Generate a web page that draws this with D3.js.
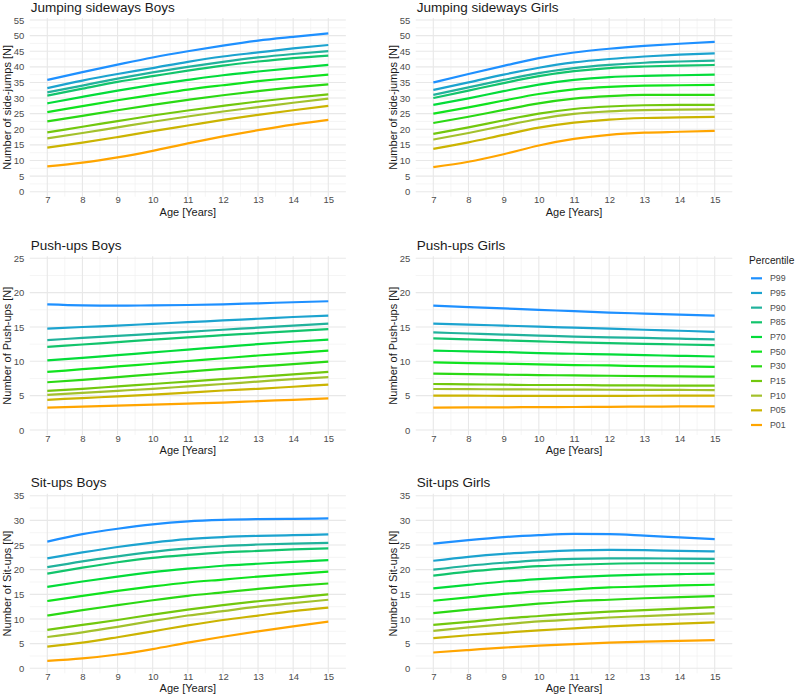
<!DOCTYPE html>
<html>
<head>
<meta charset="utf-8">
<script src="https://cdn.jsdelivr.net/npm/d3@7"></script>
<style>
    body { margin: 0; background: #fff; }
    text { font-family: "Liberation Sans", Arial, sans-serif; }
</style>
</head>
<body>
<div id="chart"></div>
<script>

// ages on the x axis
const ages = [7, 8, 9, 10, 11, 12, 13, 14, 15];

const percentiles = ["P99", "P95", "P90", "P85", "P70", "P50", "P30", "P15", "P10", "P05", "P01"];

// one row per percentile (P99 first), one value per age
const jumpBoys = [
    [35.8, 38.3, 40.7, 43.0, 45.0, 46.8, 48.4, 49.6, 50.7],
    [33.2, 35.6, 37.7, 39.6, 41.6, 43.3, 44.6, 45.9, 47.0],
    [31.8, 34.0, 36.2, 38.2, 40.0, 41.6, 43.0, 44.1, 45.0],
    [30.8, 33.0, 35.2, 37.0, 38.8, 40.4, 41.7, 42.8, 43.6],
    [28.3, 30.4, 32.4, 34.2, 35.8, 37.3, 38.5, 39.6, 40.6],
    [25.5, 27.4, 29.3, 31.0, 32.7, 34.1, 35.4, 36.5, 37.5],
    [22.5, 24.3, 26.1, 27.8, 29.4, 30.9, 32.2, 33.4, 34.4],
    [19.0, 20.8, 22.6, 24.4, 26.0, 27.5, 28.9, 30.1, 31.2],
    [17.1, 18.8, 20.6, 22.4, 24.1, 25.7, 27.1, 28.5, 29.8],
    [14.1, 15.7, 17.5, 19.4, 21.2, 23.0, 24.6, 26.1, 27.5],
    [8.1, 9.3, 11.0, 13.1, 15.5, 17.7, 19.7, 21.5, 23.0]
];

const jumpGirls = [
    [35.0, 37.7, 40.3, 42.8, 44.6, 45.8, 46.7, 47.4, 48.0],
    [32.6, 35.0, 37.5, 39.7, 41.4, 42.5, 43.3, 43.9, 44.3],
    [31.0, 33.4, 35.8, 38.0, 39.6, 40.6, 41.3, 41.7, 42.0],
    [30.0, 32.4, 34.8, 37.0, 38.6, 39.6, 40.1, 40.4, 40.6],
    [27.8, 29.9, 32.2, 34.3, 35.8, 36.7, 37.1, 37.3, 37.5],
    [25.0, 27.0, 29.2, 31.3, 32.8, 33.6, 34.0, 34.1, 34.2],
    [22.0, 24.0, 26.2, 28.3, 29.8, 30.6, 31.0, 31.0, 31.0],
    [18.5, 20.6, 22.9, 25.0, 26.5, 27.3, 27.7, 27.8, 27.8],
    [16.7, 18.8, 21.1, 23.3, 24.9, 25.7, 26.1, 26.3, 26.4],
    [13.7, 15.8, 18.2, 20.5, 22.1, 23.1, 23.6, 23.8, 24.0],
    [7.9, 9.6, 12.0, 14.8, 16.9, 18.2, 18.9, 19.2, 19.5]
];

const pushBoys = [
    [18.3, 18.15, 18.1, 18.15, 18.2, 18.3, 18.45, 18.6, 18.75],
    [14.75, 15.0, 15.2, 15.45, 15.7, 15.95, 16.2, 16.45, 16.65],
    [13.1, 13.4, 13.7, 14.0, 14.3, 14.6, 14.9, 15.2, 15.5],
    [12.1, 12.45, 12.8, 13.15, 13.5, 13.8, 14.1, 14.4, 14.7],
    [10.15, 10.5, 10.9, 11.3, 11.7, 12.1, 12.5, 12.85, 13.15],
    [8.45, 8.85, 9.25, 9.65, 10.05, 10.45, 10.85, 11.2, 11.55],
    [6.95, 7.3, 7.7, 8.1, 8.5, 8.9, 9.25, 9.6, 9.95],
    [5.7, 6.0, 6.35, 6.7, 7.05, 7.4, 7.75, 8.1, 8.45],
    [5.1, 5.4, 5.7, 6.0, 6.35, 6.7, 7.05, 7.4, 7.7],
    [4.4, 4.65, 4.9, 5.15, 5.45, 5.75, 6.0, 6.3, 6.6],
    [3.25, 3.4, 3.55, 3.7, 3.85, 4.0, 4.2, 4.4, 4.6]
];

const pushGirls = [
    [18.1, 17.9, 17.7, 17.5, 17.3, 17.1, 16.95, 16.8, 16.65],
    [15.5, 15.35, 15.2, 15.05, 14.9, 14.75, 14.6, 14.45, 14.3],
    [14.2, 14.05, 13.9, 13.75, 13.6, 13.5, 13.4, 13.3, 13.2],
    [13.35, 13.2, 13.05, 12.9, 12.75, 12.65, 12.55, 12.45, 12.35],
    [11.55, 11.45, 11.35, 11.2, 11.1, 11.0, 10.9, 10.8, 10.7],
    [9.85, 9.75, 9.65, 9.55, 9.45, 9.4, 9.3, 9.25, 9.2],
    [8.2, 8.15, 8.05, 8.0, 7.95, 7.9, 7.85, 7.8, 7.76],
    [6.7, 6.65, 6.6, 6.55, 6.55, 6.5, 6.5, 6.45, 6.45],
    [5.97, 5.95, 5.92, 5.9, 5.88, 5.86, 5.85, 5.83, 5.82],
    [5.0, 5.0, 4.98, 4.98, 4.98, 4.98, 4.99, 5.0, 5.0],
    [3.25, 3.28, 3.3, 3.33, 3.35, 3.38, 3.4, 3.43, 3.45]
];

const sitBoys = [
    [25.7, 27.2, 28.3, 29.2, 29.8, 30.1, 30.25, 30.3, 30.4],
    [22.3, 23.5, 24.6, 25.5, 26.2, 26.6, 26.85, 27.0, 27.15],
    [20.5, 21.7, 22.7, 23.6, 24.3, 24.8, 25.1, 25.3, 25.45],
    [19.2, 20.4, 21.5, 22.4, 23.0, 23.5, 23.8, 24.1, 24.3],
    [16.5, 17.6, 18.6, 19.5, 20.2, 20.8, 21.2, 21.6, 21.95],
    [13.65, 14.7, 15.7, 16.6, 17.4, 18.0, 18.6, 19.1, 19.6],
    [10.7, 11.8, 12.8, 13.8, 14.7, 15.4, 16.1, 16.7, 17.2],
    [7.8, 8.8, 9.8, 10.9, 11.9, 12.8, 13.6, 14.3, 15.0],
    [6.35, 7.3, 8.4, 9.6, 10.7, 11.6, 12.5, 13.2, 13.9],
    [4.4, 5.2, 6.3, 7.5, 8.7, 9.8, 10.7, 11.6, 12.3],
    [1.5, 2.0, 2.8, 3.9, 5.2, 6.4, 7.5, 8.5, 9.45]
];

const sitGirls = [
    [25.3, 26.0, 26.6, 27.0, 27.25, 27.2, 26.9, 26.55, 26.2],
    [21.8, 22.6, 23.2, 23.6, 23.9, 24.0, 23.95, 23.8, 23.7],
    [20.0, 20.8, 21.4, 21.9, 22.2, 22.3, 22.3, 22.25, 22.2],
    [18.8, 19.6, 20.2, 20.7, 21.0, 21.2, 21.3, 21.3, 21.3],
    [16.2, 16.9, 17.6, 18.1, 18.5, 18.8, 19.0, 19.1, 19.2],
    [13.7, 14.4, 15.1, 15.6, 16.0, 16.4, 16.6, 16.8, 16.95],
    [11.2, 11.9, 12.5, 13.1, 13.6, 13.9, 14.2, 14.45, 14.65],
    [8.8, 9.4, 10.1, 10.6, 11.1, 11.5, 11.8, 12.1, 12.4],
    [7.6, 8.3, 8.9, 9.5, 9.9, 10.3, 10.6, 10.9, 11.15],
    [6.1, 6.7, 7.2, 7.7, 8.1, 8.5, 8.8, 9.05, 9.3],
    [3.2, 3.7, 4.2, 4.6, 4.9, 5.2, 5.4, 5.55, 5.7]
];

// line colours, same order as percentiles
const palette = ["#1e90ff", "#1ca3cf", "#21b29c", "#12c46c", "#03dc3a", "#10e31e",
    "#2ad914", "#72c80e", "#a3c12c", "#cbb402", "#ffa500"];


/*
 * PercentilePanel - one small multiple of the grid
 */

class PercentilePanel {

    constructor(_svg, _cfg) {
        this.svg = _svg;
        this.cfg = _cfg;
        this.initVis();
    }

    initVis() {
        let vis = this;
        let c = vis.cfg;

        vis.x = d3.scaleLinear().domain([7, 15]).range(c.xRange);
        vis.y = d3.scaleLinear().domain([0, c.yMax]).range(c.yRange);

        vis.g = vis.svg.append("g");

        // panel extent (a bit past the first / last break)
        let x0 = vis.x(6.5), x1 = vis.x(15.5);
        let y0 = vis.y(0) + 5, y1 = vis.y(c.yMax) - 2;

        let minorX = d3.range(7.5, 15, 1);
        let minorY = d3.range(2.5, c.yMax, 5);
        let majorY = d3.range(0, c.yMax + 0.1, 5);

        let grid = vis.g.append("g");
        grid.selectAll(".minor-x").data(minorX).enter().append("line")
            .attr("x1", d => vis.x(d)).attr("x2", d => vis.x(d))
            .attr("y1", y0).attr("y2", y1)
            .attr("stroke", "#f0f0f0").attr("stroke-width", 0.7);
        grid.selectAll(".minor-y").data(minorY).enter().append("line")
            .attr("x1", x0).attr("x2", x1)
            .attr("y1", d => vis.y(d)).attr("y2", d => vis.y(d))
            .attr("stroke", "#f0f0f0").attr("stroke-width", 0.7);
        grid.selectAll(".major-x").data(ages).enter().append("line")
            .attr("x1", d => vis.x(d)).attr("x2", d => vis.x(d))
            .attr("y1", y0).attr("y2", y1)
            .attr("stroke", "#e8e8e8").attr("stroke-width", 1.1);
        grid.selectAll(".major-y").data(majorY).enter().append("line")
            .attr("x1", x0).attr("x2", x1)
            .attr("y1", d => vis.y(d)).attr("y2", d => vis.y(d))
            .attr("stroke", "#e8e8e8").attr("stroke-width", 1.1);

        // axes (labels only, ggplot minimal style)
        let xAxis = vis.g.append("g")
            .attr("transform", "translate(0," + vis.y(0) + ")")
            .call(d3.axisBottom(vis.x).tickValues(ages).tickSize(0).tickPadding(5));
        let yAxis = vis.g.append("g")
            .attr("transform", "translate(" + (x0 - 1.5) + ",0)")
            .call(d3.axisLeft(vis.y).tickValues(majorY).tickSize(0).tickPadding(4));
        [xAxis, yAxis].forEach(a => {
            a.select(".domain").remove();
            a.selectAll("text")
                .style("font-family", "'Liberation Sans', Arial, sans-serif")
                .style("font-size", "9.5px")
                .attr("fill", "#4d4d4d");
        });

        vis.g.append("text")
            .attr("x", (x0 + x1) / 2)
            .attr("y", vis.y(0) + 24)
            .attr("text-anchor", "middle")
            .style("font-size", "11px")
            .attr("fill", "#1a1a1a")
            .text("Age [Years]");

        vis.g.append("text")
            .attr("transform", "translate(" + (x0 - 18.5) + "," + ((y0 + y1) / 2) + ") rotate(-90)")
            .attr("text-anchor", "middle")
            .style("font-size", "11px")
            .attr("fill", "#1a1a1a")
            .text(c.yLabel);

        vis.g.append("text")
            .attr("x", x0 + 1)
            .attr("y", vis.y(c.yMax) - 8.5)
            .style("font-size", "13.5px")
            .attr("fill", "#1a1a1a")
            .text(c.title);

        vis.updateVis();
    }

    updateVis() {
        let vis = this;

        let line = d3.line()
            .x((d, i) => vis.x(ages[i]))
            .y(d => vis.y(d))
            .curve(d3.curveMonotoneX);

        vis.g.append("g")
            .selectAll("path")
            .data(vis.cfg.values.slice().reverse())
            .enter()
            .append("path")
            .attr("d", d => line(d))
            .attr("fill", "none")
            .attr("stroke", (d, i) => palette[palette.length - 1 - i])
            .attr("stroke-width", 2.2)
            .attr("stroke-linejoin", "round")
            .attr("stroke-linecap", "butt");
    }
}


let svg = d3.select("#chart").append("svg")
    .attr("width", 796)
    .attr("height", 696);

let colX = [[47.3, 328.3], [433.3, 714.7]];
let rowY = [[191.7, 20], [430, 258.3], [668.3, 495.7]];

let panels = [
    { title: "Jumping sideways Boys", yLabel: "Number of side-jumps [N]", yMax: 55, values: jumpBoys, col: 0, row: 0 },
    { title: "Jumping sideways Girls", yLabel: "Number of side-jumps [N]", yMax: 55, values: jumpGirls, col: 1, row: 0 },
    { title: "Push-ups Boys", yLabel: "Number of Push-ups [N]", yMax: 25, values: pushBoys, col: 0, row: 1 },
    { title: "Push-ups Girls", yLabel: "Number of Push-ups [N]", yMax: 25, values: pushGirls, col: 1, row: 1 },
    { title: "Sit-ups Boys", yLabel: "Number of Sit-ups [N]", yMax: 35, values: sitBoys, col: 0, row: 2 },
    { title: "Sit-ups Girls", yLabel: "Number of Sit-ups [N]", yMax: 35, values: sitGirls, col: 1, row: 2 }
];

panels.forEach(p => {
    p.xRange = colX[p.col];
    p.yRange = rowY[p.row];
    new PercentilePanel(svg, p);
});

// legend
let legend = svg.append("g").attr("transform", "translate(749,0)");
legend.append("text")
    .attr("x", 0).attr("y", 264)
    .style("font-size", "10.2px")
    .attr("fill", "#1a1a1a")
    .text("Percentile");

let legendY = d3.scalePoint().domain(percentiles).range([278.3, 425]);
let items = legend.selectAll(".item").data(percentiles).enter().append("g")
    .attr("transform", d => "translate(0," + legendY(d) + ")");
items.append("line")
    .attr("x1", 2).attr("x2", 13)
    .attr("stroke", (d, i) => palette[i])
    .attr("stroke-width", 2.2);
items.append("text")
    .attr("x", 21).attr("dy", "0.35em")
    .style("font-size", "8.8px")
    .attr("fill", "#4d4d4d")
    .text(d => d);

</script>
</body>
</html>
